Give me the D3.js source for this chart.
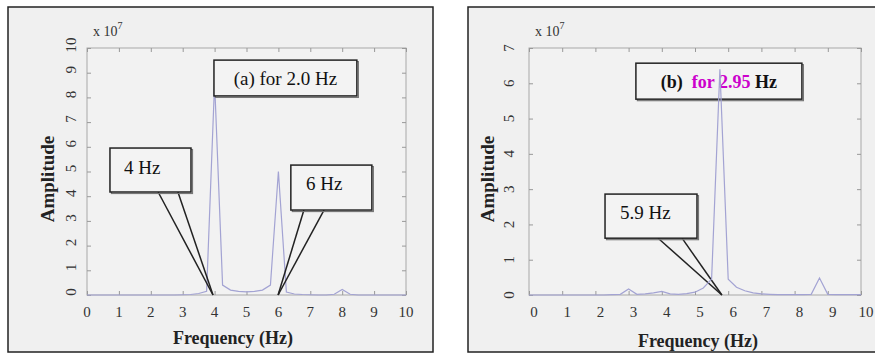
<!DOCTYPE html>
<html>
<head>
<meta charset="utf-8">
<script src="https://cdn.jsdelivr.net/npm/d3@7"></script>
<style>
  body { margin: 0; background: #fff; }
  svg { display: block; font-family: "Liberation Serif", "DejaVu Serif", serif; }
</style>
</head>
<body>
<svg id="chart" width="875" height="353"></svg>
<script>
// ---------------------------
// Data (amplitudes in units of 1e7)
// ---------------------------
const freq = [0, 0.25, 0.5, 0.75, 1, 1.25, 1.5, 1.75, 2, 2.25, 2.5, 2.75, 3, 3.25, 3.5, 3.75,
  4, 4.25, 4.5, 4.75, 5, 5.25, 5.5, 5.75, 6, 6.25, 6.5, 6.75, 7, 7.25, 7.5, 7.75,
  8, 8.25, 8.5, 8.75, 9, 9.25, 9.5, 9.75, 10];

const ampA = [0, 0, 0, 0, 0, 0, 0, 0, 0, 0, 0, 0, 0.01, 0.02, 0.06, 0.15,
  8.6, 0.4, 0.2, 0.15, 0.13, 0.15, 0.2, 0.4, 5.0, 0.12, 0.04, 0.02, 0.01, 0, 0, 0.03,
  0.22, 0.03, 0, 0, 0, 0, 0, 0, 0];

const ampB = [0, 0, 0, 0, 0, 0, 0, 0, 0, 0, 0.01, 0.02, 0.17, 0.02, 0.03, 0.06,
  0.1, 0.03, 0.02, 0.04, 0.08, 0.2, 0.45, 6.4, 0.45, 0.22, 0.12, 0.06, 0.03, 0.02, 0.01, 0.01,
  0.01, 0.01, 0.02, 0.48, 0.02, 0.01, 0.01, 0.01, 0.01];

const xTicks = [0, 1, 2, 3, 4, 5, 6, 7, 8, 9, 10];
const yTicksA = [0, 1, 2, 3, 4, 5, 6, 7, 8, 9, 10];
const yTicksB = [0, 1, 2, 3, 4, 5, 6, 7];

// callouts, in data units: box [x0, x1, y1, y0], tail base xs, tip
const calloutsA = [
  { box: [3.98, 8.46, 9.51, 8.06], parts: [['(a) for 2.0 Hz', '#111']], bold: false, size: 19, tx: 'mid', ty: 85 },
  { box: [0.72, 3.26, 5.95, 4.17], parts: [['4 Hz', '#111']], size: 19, tx: 124, ty: 174, tail: [2.23, 2.85], tip: [3.95, 0] },
  { box: [6.39, 8.93, 5.26, 3.44], parts: [['6 Hz', '#111']], size: 19, tx: 306, ty: 190, tail: [6.8, 7.43], tip: [5.99, 0] }
];
const calloutsB = [
  { box: [3.22, 8.22, 6.57, 5.55], parts: [['(b)  ', '#111'], ['for 2.95', '#cc00cc'], [' Hz', '#111']], bold: true, size: 18, tx: 'mid', ty: 88 },
  { box: [2.29, 5.06, 2.86, 1.61], parts: [['5.9 Hz', '#111']], size: 19, tx: 620, ty: 219, tail: [3.89, 4.61], tip: [5.81, 0] }
];

const svg = d3.select('#chart');

// ---------------------------
// One panel
// ---------------------------
function drawPanel(p) {
  const g = svg.append('g');

  g.append('rect')
    .attr('x', p.outer[0]).attr('y', p.outer[1])
    .attr('width', p.outer[2]).attr('height', p.outer[3])
    .attr('fill', '#f0f0f0').attr('stroke', '#222').attr('stroke-width', 1.5);

  const x = d3.scaleLinear().domain([0, 10]).range([p.left, p.right]);
  const y = d3.scaleLinear().domain([0, p.ymax]).range([p.bottom, p.top]);

  g.append('rect')
    .attr('x', p.left).attr('y', p.top)
    .attr('width', p.right - p.left).attr('height', p.bottom - p.top)
    .attr('fill', '#f2f2f2').attr('stroke', '#a8a8a8').attr('stroke-width', 1);

  // ticks pointing in, on all four sides
  const tickStyle = sel => {
    sel.select('.domain').remove();
    sel.selectAll('line').attr('stroke', '#999');
  };
  g.append('g').attr('transform', `translate(0,${p.bottom})`)
    .call(d3.axisBottom(x).tickValues(xTicks).tickSize(-4).tickFormat('')).call(tickStyle);
  g.append('g').attr('transform', `translate(0,${p.top})`)
    .call(d3.axisTop(x).tickValues(xTicks).tickSize(-4).tickFormat('')).call(tickStyle);
  g.append('g').attr('transform', `translate(${p.left},0)`)
    .call(d3.axisLeft(y).tickValues(p.yTicks).tickSize(-4).tickFormat('')).call(tickStyle);
  g.append('g').attr('transform', `translate(${p.right},0)`)
    .call(d3.axisRight(y).tickValues(p.yTicks).tickSize(-4).tickFormat('')).call(tickStyle);

  // tick labels
  g.selectAll('.xl').data(xTicks).enter().append('text')
    .attr('x', d => x(d) + p.xlDx)
    .attr('y', p.bottom + 22)
    .attr('text-anchor', 'middle')
    .attr('font-size', 15).attr('fill', '#333')
    .text(d => d);

  g.selectAll('.yl').data(p.yTicks).enter().append('text')
    .attr('transform', d => `translate(${p.left - p.ylOff},${y(d) + p.ylDy}) rotate(-90)`)
    .attr('text-anchor', 'middle').attr('dy', '0.35em')
    .attr('font-size', 15).attr('fill', '#333')
    .text(d => d);

  // exponent
  const ex = g.append('text')
    .attr('x', p.left + 6).attr('y', 36)
    .attr('font-size', 14).attr('fill', '#333');
  ex.append('tspan').text('x 10');
  ex.append('tspan').attr('font-size', 10).attr('dy', -7).text('7');

  // axis titles
  g.append('text')
    .attr('transform', `translate(${p.ytX},179) rotate(-90)`)
    .attr('text-anchor', 'middle').attr('dy', '0.35em')
    .attr('font-size', 19).attr('font-weight', 'bold').attr('fill', '#222')
    .text('Amplitude');
  g.append('text')
    .attr('x', p.xtX).attr('y', p.xtY)
    .attr('text-anchor', 'middle')
    .attr('font-size', 18).attr('font-weight', 'bold').attr('fill', '#222')
    .text('Frequency (Hz)');

  const line = d3.line().x((d, i) => x(freq[i])).y(d => y(d));
  const drawLine = () => g.append('path')
    .datum(p.amp)
    .attr('d', line)
    .attr('fill', 'none').attr('stroke', '#a3a3d3').attr('stroke-width', 1.2);

  if (!p.lineOnTop) drawLine();

  p.callouts.forEach(c => {
    const bx0 = x(c.box[0]), bx1 = x(c.box[1]), by0 = y(c.box[2]), by1 = y(c.box[3]);
    if (c.tail) {
      c.tail.forEach(t => {
        g.append('line')
          .attr('x1', x(t)).attr('y1', by1)
          .attr('x2', x(c.tip[0])).attr('y2', y(c.tip[1]))
          .attr('stroke', '#222').attr('stroke-width', 1.5);
      });
    }
    // soft shadow then box
    g.append('rect')
      .attr('x', bx0 + 1.5).attr('y', by0 + 1.5)
      .attr('width', bx1 - bx0).attr('height', by1 - by0)
      .attr('fill', 'none').attr('stroke', '#777').attr('stroke-width', 1.2);
    g.append('rect')
      .attr('x', bx0).attr('y', by0)
      .attr('width', bx1 - bx0).attr('height', by1 - by0)
      .attr('fill', '#f3f3f3')
      .attr('stroke', '#222').attr('stroke-width', 1.5);

    const t = g.append('text')
      .attr('y', c.ty)
      .attr('font-size', c.size)
      .attr('font-weight', c.bold ? 'bold' : 'normal');
    if (c.tx === 'mid') {
      t.attr('x', (bx0 + bx1) / 2).attr('text-anchor', 'middle');
    } else {
      t.attr('x', c.tx);
    }
    c.parts.forEach(pt => t.append('tspan').attr('fill', pt[1]).style('white-space', 'pre').text(pt[0]));
  });

  if (p.lineOnTop) drawLine();
}

drawPanel({
  outer: [8, 7, 425, 345],
  left: 87, right: 406, top: 48, bottom: 295,
  ymax: 10, yTicks: yTicksA, amp: ampA, callouts: calloutsA,
  xlDx: 0, ylOff: 16, ylDy: -3, ytX: 47, xtX: 233, xtY: 344,
  lineOnTop: false
});

drawPanel({
  outer: [468, 7, 420, 345],
  left: 529, right: 861, top: 48, bottom: 295,
  ymax: 7, yTicks: yTicksB, amp: ampB, callouts: calloutsB,
  xlDx: 5, ylOff: 20, ylDy: 0, ytX: 487, xtX: 698, xtY: 347,
  lineOnTop: true
});
</script>
</body>
</html>
